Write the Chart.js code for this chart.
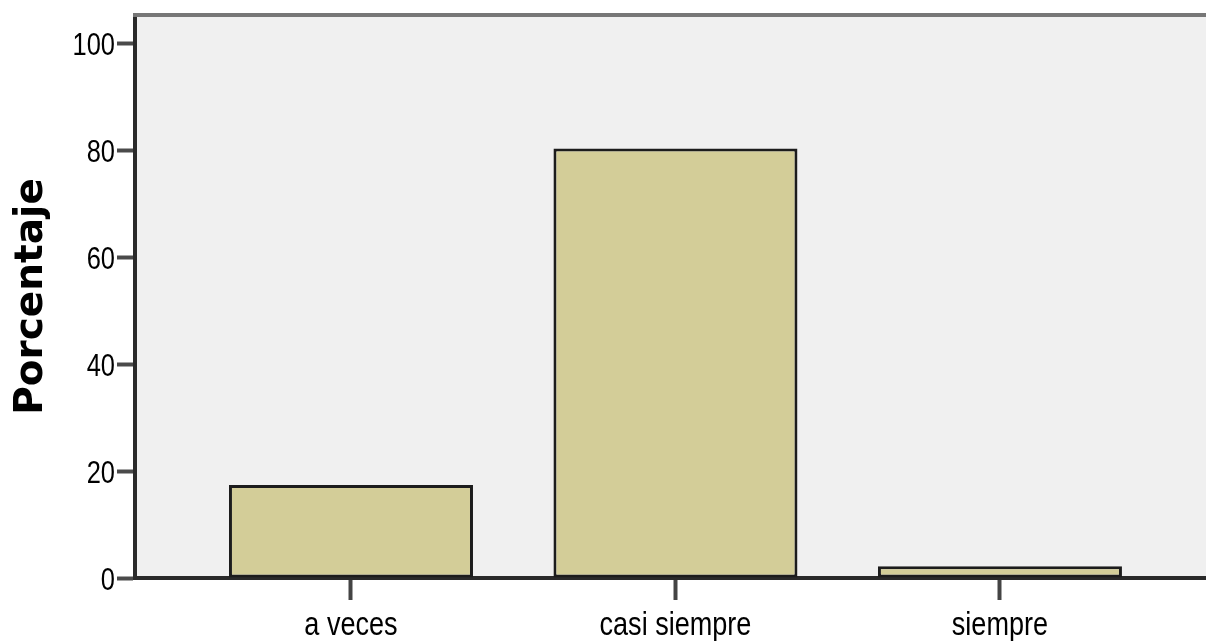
<!DOCTYPE html>
<html>
<head>
<meta charset="utf-8">
<script src="https://cdn.jsdelivr.net/npm/chart.js@4/dist/chart.umd.min.js"></script>
<style>
  html, body { margin: 0; padding: 0; background: #fff; overflow: hidden; }
  #wrap { width: 1206px; height: 641px; position: relative; }
</style>
</head>
<body>
<div id="wrap"><canvas id="barChart"></canvas></div>
<script>
// Data (percentages, n = 46)
const categories = ['a veces', 'casi siempre', 'siempre'];
const percentages = [17.4, 80.4, 2.2];
const yTicks = [0, 20, 40, 60, 80, 100];

const labelFont = "'Liberation Sans', Arial, sans-serif";

// grey plot background + top frame line, SPSS style
const plotFrame = {
    id: 'plotFrame',
    beforeDraw: function (chart) {
        const a = chart.chartArea;
        const c = chart.ctx;
        c.save();
        c.fillStyle = '#f0f0f0';
        c.fillRect(a.left, a.top, a.right - a.left, a.bottom - a.top);
        c.restore();
    },
    afterDraw: function (chart) {
        const a = chart.chartArea;
        const c = chart.ctx;
        c.save();
        c.strokeStyle = '#777777';
        c.lineWidth = 4;
        c.beginPath();
        c.moveTo(a.left - 2, a.top);
        c.lineTo(a.right, a.top);
        c.stroke();
        c.restore();
    }
};

// tick labels drawn horizontally condensed (no narrow font installed)
const narrowTicks = {
    id: 'narrowTicks',
    afterDraw: function (chart) {
        const c = chart.ctx;
        const xs = chart.scales.x;
        const ys = chart.scales.y;
        c.save();
        c.fillStyle = '#000';

        c.font = '31px ' + labelFont;
        c.textAlign = 'right';
        c.textBaseline = 'middle';
        ys.ticks.forEach(function (t) {
            c.save();
            c.translate(ys.right - ys.options.grid.tickLength - 2, ys.getPixelForValue(t.value) + 3);
            c.scale(0.82, 1);
            c.fillText(String(t.value), 0, 0);
            c.restore();
        });

        c.font = '33px ' + labelFont;
        c.textAlign = 'center';
        c.textBaseline = 'alphabetic';
        xs.ticks.forEach(function (t) {
            c.save();
            c.translate(xs.getPixelForValue(t.value), xs.top + 57);
            c.scale(0.82, 1);
            c.fillText(categories[t.value], 0, 0);
            c.restore();
        });
        c.restore();
    }
};

const canvas = document.getElementById('barChart');
new Chart(canvas, {
    type: 'bar',
    data: {
        datasets: [{
            label: 'Porcentaje',
            data: categories.map(function (c, i) { return { x: i, y: percentages[i] }; }),
            backgroundColor: '#d3cd98',
            borderColor: '#1c1c1c',
            borderWidth: 3,
            borderSkipped: false,
            categoryPercentage: 1,
            barPercentage: 0.752
        }]
    },
    options: {
        responsive: true,
        maintainAspectRatio: false,
        animation: false,
        layout: { padding: { top: 15, right: 0, left: 0, bottom: 0 } },
        plugins: {
            legend: { display: false },
            tooltip: { enabled: false }
        },
        scales: {
            x: {
                type: 'linear',
                offset: false,
                min: -0.6656,
                max: 2.635,
                afterBuildTicks: function (axis) {
                    axis.ticks = categories.map(function (c, i) { return { value: i }; });
                },
                afterFit: function (s) { s.height = 63; },
                grid: {
                    offset: false,
                    drawOnChartArea: false,
                    drawTicks: true,
                    tickLength: 22,
                    tickWidth: 4,
                    tickColor: '#444444'
                },
                border: { display: true, color: '#2a2a2a', width: 4 },
                ticks: { display: false }
            },
            y: {
                min: 0,
                max: 105.4,
                afterBuildTicks: function (axis) {
                    axis.ticks = yTicks.map(function (v) { return { value: v }; });
                },
                afterFit: function (s) { s.width = 135; },
                grid: {
                    drawOnChartArea: false,
                    drawTicks: true,
                    tickLength: 18,
                    tickWidth: 4,
                    tickColor: '#4a4a4a'
                },
                border: { display: true, color: '#2a2a2a', width: 4 },
                ticks: { display: false },
                title: {
                    display: true,
                    text: 'Porcentaje',
                    color: '#000',
                    padding: { top: 8, bottom: 0 },
                    font: { family: "'DejaVu Sans', sans-serif", size: 39, weight: 'bold', lineHeight: 1.2 }
                }
            }
        }
    },
    plugins: [plotFrame, narrowTicks]
});
</script>
</body>
</html>
